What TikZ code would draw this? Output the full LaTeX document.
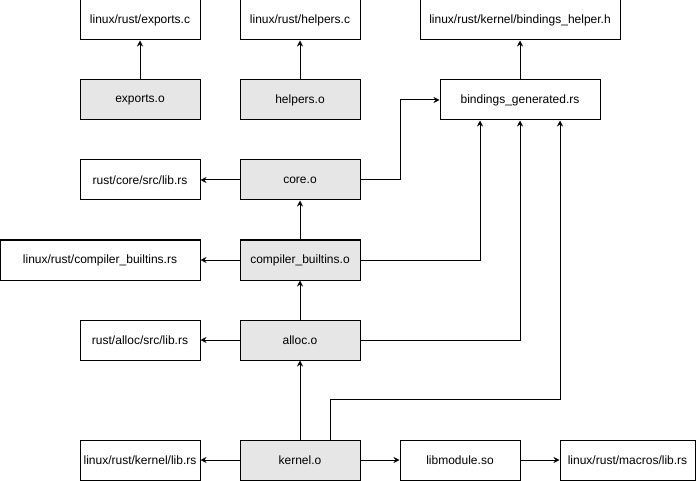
\documentclass[tikz,border=0pt]{standalone}
\usepackage{fontspec}
\setmainfont{Liberation Sans}
\usetikzlibrary{arrows.meta}
\definecolor{objgray}{HTML}{E6E6E6}

\begin{document}
\begin{tikzpicture}[x=1pt, y=-1pt, line width=1pt,
    file/.style={draw, minimum width=120pt, minimum height=40pt, inner sep=0pt, font=\fontsize{12}{14}\selectfont},
    obj/.style={file, fill=objgray},
    dep/.style={-{Stealth[length=6pt,width=6pt,inset=2pt]}}]
      \useasboundingbox (0,0) rectangle (696,481);

      % sources
      \node[file] (exportsc) at (140, 20) {linux/rust/exports.c};
      \node[file] (helpersc) at (300, 20) {linux/rust/helpers.c};
      \node[file, minimum width=200pt] (bindh) at (520, 20) {linux/rust/kernel/bindings\_helper.h};

      \node[obj] (exportso) at (140, 100) {exports.o};
      \node[obj] (helperso) at (300, 100) {helpers.o};
      \node[file, minimum width=160pt] (bindgen) at (520, 100) {bindings\_generated.rs};

      \node[file] (corelib) at (140, 180) {rust/core/src/lib.rs};
      \node[obj] (coreo) at (300, 180) {core.o};

      \node[file, minimum width=200pt] (cblib) at (100, 260) {linux/rust/compiler\_builtins.rs};
      \node[obj] (cbo) at (300, 260) {compiler\_builtins.o};

      \node[file] (alloclib) at (140, 340) {rust/alloc/src/lib.rs};
      \node[obj] (alloco) at (300, 340) {alloc.o};

      \node[file] (kernellib) at (140, 460) {linux/rust/kernel/lib.rs};
      \node[obj] (kernelo) at (300, 460) {kernel.o};
      \node[file] (libmod) at (460, 460) {libmodule.so};
      \node[file, minimum width=135pt] (macros) at (627.5, 460) {linux/rust/macros/lib.rs};

      % dependencies
      \draw[dep] (exportso) -- (exportsc);
      \draw[dep] (helperso) -- (helpersc);
      \draw[dep] (bindgen) -- (bindh);
      \draw[dep] (coreo) -- (corelib);
      \draw[dep] (coreo.east) -- ++(40, 0) |- (bindgen.west);
      \draw[dep] (cbo) -- (coreo);
      \draw[dep] (cbo) -- (cblib);
      \draw[dep] (cbo.east) -| ([xshift=-40pt]bindgen.south);
      \draw[dep] (alloco) -- (cbo);
      \draw[dep] (alloco) -- (alloclib);
      \draw[dep] (alloco.east) -| (bindgen.south);
      \draw[dep] (kernelo) -- (alloco);
      \draw[dep] (kernelo) -- (kernellib);
      \draw[dep] ([xshift=30pt]kernelo.north) -- ++(0, -40) -| ([xshift=40pt]bindgen.south);
      \draw[dep] (kernelo) -- (libmod);
      \draw[dep] (libmod) -- (macros);
    \end{tikzpicture}
\end{document}
